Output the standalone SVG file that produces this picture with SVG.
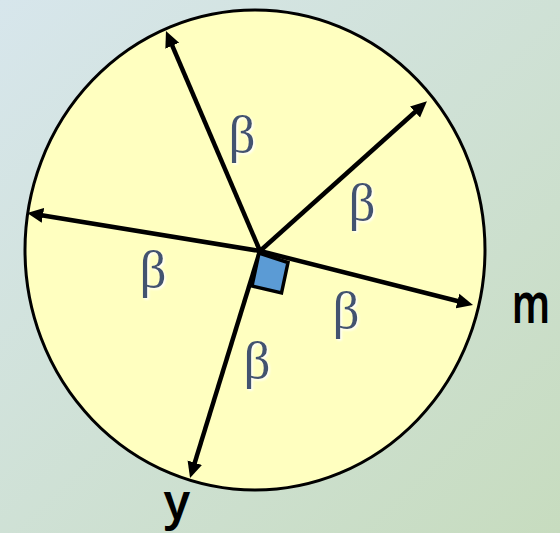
<svg xmlns="http://www.w3.org/2000/svg" width="560" height="533" viewBox="0 0 560 533">
<defs>
<linearGradient id="bg" x1="0" y1="0" x2="1" y2="1">
<stop offset="0" stop-color="#d7e6ec"/>
<stop offset="1" stop-color="#c7dcbf"/>
</linearGradient>
<marker id="ah" viewBox="0 0 16 16" markerWidth="16" markerHeight="16" refX="6" refY="8" orient="auto" markerUnits="userSpaceOnUse">
<path d="M0,0.5 L16,8 L0,15.5 z" fill="#000"/>
</marker>
<filter id="glow" x="-30%" y="-30%" width="160%" height="160%">
<feDropShadow dx="1.5" dy="1.5" stdDeviation="0.8" flood-color="#ffffff" flood-opacity="1"/>
</filter>
</defs>
<style>
.ray{stroke:#000;stroke-width:4.5;fill:none;marker-end:url(#ah)}
.beta{font-family:"Liberation Serif","DejaVu Serif",serif;font-size:53px;fill:#43536f;text-anchor:middle;filter:url(#glow)}
.lbl{font-family:"Noto Sans","DejaVu Sans",sans-serif;font-weight:600;fill:#000;text-anchor:middle}
</style>
<rect width="560" height="533" fill="url(#bg)"/>
<g id="circle">
<ellipse cx="255" cy="250" rx="230" ry="240" fill="#ffffc0" stroke="#000" stroke-width="3"/>
</g>
<g id="connectors">
<line class="ray" x1="260" y1="251" x2="169.9" y2="40.2"/>
<line class="ray" x1="260" y1="251" x2="419.5" y2="108"/>
<line class="ray" x1="260" y1="251" x2="37" y2="214.5"/>
<line class="ray" x1="260" y1="251" x2="463.3" y2="302.5"/>
<line class="ray" x1="260" y1="251" x2="193" y2="468.4"/>
</g>
<g id="right-angle">
<polygon points="259,253 288,262.5 281.5,293 252,286" fill="#5b9bd5" stroke="#000" stroke-width="3.5" stroke-linejoin="miter"/>
</g>
<g id="labels">
<text class="beta" x="242" y="152">β</text>
<text class="beta" x="362" y="220">β</text>
<text class="beta" x="153" y="287">β</text>
<text class="beta" x="346" y="328">β</text>
<text class="beta" x="257" y="378">β</text>
</g>
<g id="label-m">
<text class="lbl" font-size="40" transform="translate(531,323) scale(1,1.4)">m</text>
</g>
<g id="label-y">
<text class="lbl" font-size="48" x="177" y="519">y</text>
</g>
</svg>
